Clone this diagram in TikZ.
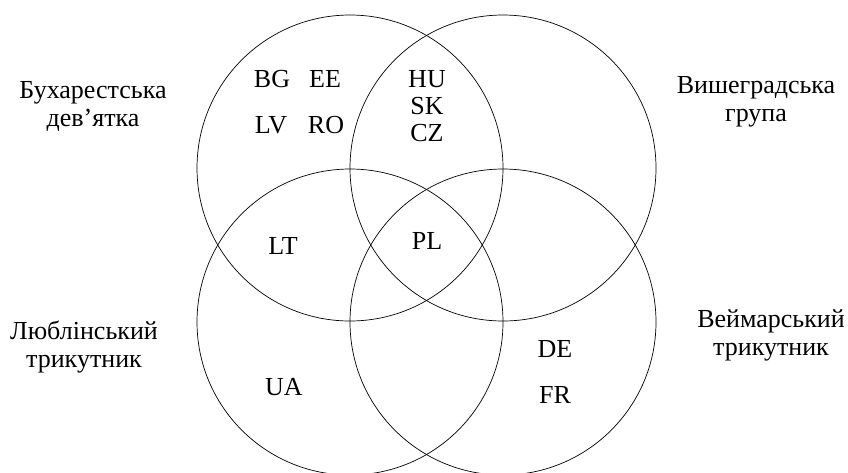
\documentclass[tikz,border=0pt]{standalone}
\usepackage{fontspec}
\setmainfont{Liberation Serif}
\usetikzlibrary{positioning}

\begin{document}
\begin{tikzpicture}[x=1pt, y=-1pt, font=\fontsize{26}{28}\selectfont,
        group/.style={circle, draw, line width=0.7pt, minimum size=306pt, inner sep=0pt},
        country/.style={inner sep=0pt},
        title/.style={align=center, inner sep=0pt},]
        \useasboundingbox (0,0) rectangle (848,472);
        % four groups
        \node[group] (buch) at (350,168) {};
        \node[group] (vish) at (503,168) {};
        \node[group] (lubl) at (350,322) {};
        \node[group] (weim) at (503,322) {};
        % group names
        \node[title] (buchname) at (93,106) {Бухарестська\\дев’ятка};
        \node[title] (vishname) at (756,102) {Вишеградська\\група};
        \node[title] (lublname) at (84,347) {Люблінський\\трикутник};
        \node[title] (weimname) at (771,335) {Веймарський\\трикутник};
        % countries
        \node[country] (bg) at (272,79) {BG};
        \node[country] (ee) at (325,79) {EE};
        \node[country] (lv) at (271,125) {LV};
        \node[country] (ro) at (326,125) {RO};
        \node[title, font=\fontsize{26}{27}\selectfont] (v3) at (427,106) {HU\\SK\\CZ};
        \node[country] (lt) at (283,246) {LT};
        \node[country] (pl) at (427,241) {PL};
        \node[country] (ua) at (284,387) {UA};
        \node[country] (de) at (555,349) {DE};
        \node[country] (fr) at (555,395) {FR};
      \end{tikzpicture}
\end{document}
